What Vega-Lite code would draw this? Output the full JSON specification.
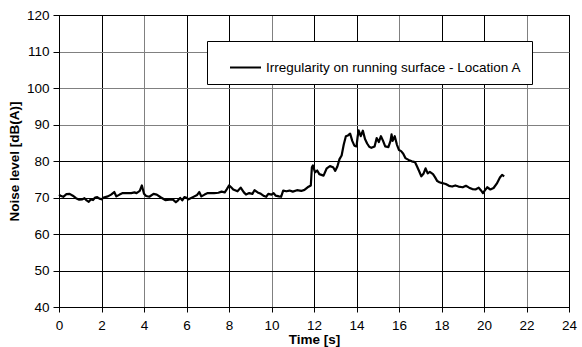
{
  "$schema": "https://vega.github.io/schema/vega-lite/v6.json",
  "width": 510,
  "height": 292,
  "autosize": "none",
  "padding": {"left": 59, "top": 15, "right": 13, "bottom": 40},
  "background": "white",
  "config": {
    "font": "Liberation Sans",
    "view": {"stroke": "black", "strokeWidth": 1},
    "axis": {
      "labelFont": "Liberation Sans",
      "labelFontSize": 13.5,
      "labelColor": "black",
      "titleFont": "Liberation Sans",
      "titleFontSize": 13.5,
      "titleFontWeight": "bold",
      "titleColor": "black",
      "domainColor": "black",
      "tickColor": "black",
      "gridOpacity": 1,
      "gridWidth": 1
    }
  },
  "data": {
    "values": [
      {"t":0,"db":70.8},{"t":0.1,"db":70.4},{"t":0.2,"db":70.2},{"t":0.35,"db":70.9},{"t":0.5,"db":71.0},
      {"t":0.65,"db":70.5},{"t":0.8,"db":69.8},{"t":0.95,"db":69.4},{"t":1.1,"db":69.5},{"t":1.2,"db":69.8},
      {"t":1.3,"db":69.2},{"t":1.4,"db":68.8},{"t":1.5,"db":69.5},{"t":1.6,"db":69.3},{"t":1.7,"db":70.0},
      {"t":1.8,"db":70.1},{"t":1.9,"db":69.7},{"t":2.0,"db":69.5},{"t":2.1,"db":70.0},{"t":2.3,"db":70.3},
      {"t":2.45,"db":70.8},{"t":2.6,"db":71.5},{"t":2.7,"db":70.3},{"t":2.85,"db":70.8},{"t":3.0,"db":71.2},
      {"t":3.2,"db":71.2},{"t":3.4,"db":71.2},{"t":3.55,"db":71.4},{"t":3.65,"db":71.2},{"t":3.8,"db":71.8},
      {"t":3.9,"db":73.3},{"t":4.0,"db":71.0},{"t":4.1,"db":70.4},{"t":4.25,"db":70.2},{"t":4.45,"db":71.0},
      {"t":4.6,"db":70.8},{"t":4.8,"db":70.0},{"t":5.0,"db":69.3},{"t":5.2,"db":69.4},{"t":5.35,"db":69.5},
      {"t":5.5,"db":68.7},{"t":5.6,"db":69.2},{"t":5.7,"db":69.9},{"t":5.8,"db":69.2},{"t":5.9,"db":70.1},
      {"t":6.0,"db":69.9},{"t":6.1,"db":69.5},{"t":6.3,"db":70.1},{"t":6.5,"db":70.7},{"t":6.6,"db":71.5},
      {"t":6.7,"db":70.3},{"t":6.85,"db":70.8},{"t":7.0,"db":71.2},{"t":7.3,"db":71.2},{"t":7.5,"db":71.3},
      {"t":7.65,"db":71.6},{"t":7.8,"db":71.4},{"t":7.9,"db":72.3},{"t":8.0,"db":73.3},{"t":8.1,"db":72.8},
      {"t":8.2,"db":72.2},{"t":8.4,"db":71.7},{"t":8.55,"db":72.7},{"t":8.7,"db":71.4},{"t":8.8,"db":70.8},
      {"t":8.95,"db":71.2},{"t":9.1,"db":71.0},{"t":9.2,"db":72.0},{"t":9.35,"db":71.4},{"t":9.5,"db":71.0},
      {"t":9.65,"db":70.4},{"t":9.75,"db":70.2},{"t":9.85,"db":71.0},{"t":10.0,"db":70.8},{"t":10.1,"db":71.2},
      {"t":10.2,"db":70.5},{"t":10.35,"db":70.3},{"t":10.45,"db":70.2},{"t":10.55,"db":71.9},{"t":10.7,"db":71.7},
      {"t":10.85,"db":71.9},{"t":11.0,"db":71.6},{"t":11.2,"db":72.0},{"t":11.4,"db":71.8},{"t":11.55,"db":72.1},
      {"t":11.7,"db":72.8},{"t":11.85,"db":73.3},{"t":11.9,"db":78.3},{"t":11.95,"db":78.8},{"t":12.05,"db":76.9},
      {"t":12.15,"db":77.4},{"t":12.25,"db":76.4},{"t":12.45,"db":76.0},{"t":12.6,"db":78.0},{"t":12.75,"db":78.6},
      {"t":12.9,"db":78.3},{"t":13.0,"db":77.3},{"t":13.1,"db":78.5},{"t":13.2,"db":80.5},{"t":13.3,"db":81.5},
      {"t":13.4,"db":84.5},{"t":13.5,"db":86.8},{"t":13.6,"db":87.0},{"t":13.7,"db":87.5},{"t":13.8,"db":85.5},
      {"t":13.9,"db":84.2},{"t":14.0,"db":84.0},{"t":14.05,"db":86.5},{"t":14.1,"db":88.4},{"t":14.2,"db":86.8},
      {"t":14.3,"db":88.3},{"t":14.4,"db":86.0},{"t":14.5,"db":84.8},{"t":14.6,"db":83.9},{"t":14.7,"db":83.6},
      {"t":14.85,"db":84.0},{"t":14.95,"db":86.3},{"t":15.05,"db":85.2},{"t":15.15,"db":86.8},{"t":15.25,"db":85.5},
      {"t":15.35,"db":84.0},{"t":15.5,"db":83.8},{"t":15.6,"db":85.5},{"t":15.65,"db":87.3},{"t":15.7,"db":85.5},
      {"t":15.8,"db":86.8},{"t":15.9,"db":84.5},{"t":16.0,"db":83.0},{"t":16.1,"db":82.7},{"t":16.2,"db":82.0},
      {"t":16.3,"db":80.8},{"t":16.45,"db":80.3},{"t":16.6,"db":79.9},{"t":16.75,"db":79.7},{"t":16.85,"db":78.5},
      {"t":16.95,"db":77.2},{"t":17.05,"db":75.8},{"t":17.15,"db":76.5},{"t":17.25,"db":78.0},{"t":17.35,"db":76.6},
      {"t":17.45,"db":77.0},{"t":17.6,"db":76.4},{"t":17.7,"db":75.5},{"t":17.8,"db":74.5},{"t":17.9,"db":74.2},
      {"t":18.0,"db":74.0},{"t":18.2,"db":73.7},{"t":18.35,"db":73.2},{"t":18.5,"db":73.0},{"t":18.65,"db":73.3},
      {"t":18.8,"db":73.0},{"t":19.0,"db":72.8},{"t":19.15,"db":73.2},{"t":19.3,"db":72.7},{"t":19.45,"db":72.3},
      {"t":19.6,"db":72.2},{"t":19.75,"db":72.7},{"t":19.85,"db":72.0},{"t":19.95,"db":71.2},{"t":20.05,"db":72.0},
      {"t":20.15,"db":72.8},{"t":20.3,"db":72.2},{"t":20.45,"db":72.6},{"t":20.6,"db":73.8},{"t":20.75,"db":75.5},
      {"t":20.85,"db":76.2},{"t":20.95,"db":75.8}
    ]
  },
  "mark": {"type": "line", "strokeWidth": 2.2, "strokeJoin": "round"},
  "encoding": {
    "x": {
      "field": "t",
      "type": "quantitative",
      "scale": {"domain": [0, 24], "nice": false, "zero": false},
      "axis": {
        "title": "Time [s]",
        "values": [0, 2, 4, 6, 8, 10, 12, 14, 16, 18, 20, 22, 24],
        "tickSize": 5,
        "labelPadding": 6,
        "titlePadding": 1,
        "labelFlush": false,
        "labelOverlap": false,
        "gridColor": {"condition": {"test": "indexof([4,10,16,22], datum.value) >= 0", "value": "#808080"}, "value": "black"}
      }
    },
    "y": {
      "field": "db",
      "type": "quantitative",
      "scale": {"domain": [40, 120], "nice": false, "zero": false},
      "axis": {
        "title": "Noise level [dB(A)]",
        "values": [40, 50, 60, 70, 80, 90, 100, 110, 120],
        "tickSize": 6,
        "labelPadding": 4,
        "titlePadding": 5,
        "labelFlush": false,
        "labelOverlap": false,
        "gridColor": {"condition": {"test": "datum.value >= 90 && datum.value <= 110", "value": "#808080"}, "value": "black"}
      }
    },
    "color": {
      "datum": "Irregularity on running surface - Location A",
      "type": "nominal",
      "scale": {"range": ["black"]},
      "legend": {
        "title": null,
        "orient": "none",
        "legendX": 148,
        "legendY": 26,
        "direction": "vertical",
        "symbolType": "stroke",
        "symbolSize": 961,
        "symbolStrokeWidth": 2,
        "symbolOffset": 12,
        "labelFont": "Liberation Sans",
        "labelFontSize": 13.5,
        "labelColor": "black",
        "labelOffset": 4,
        "labelLimit": 400,
        "labelExpr": "datum.label + '\u00a0\u00a0\u00a0'",
        "padding": 10,
        "strokeColor": "black",
        "fillColor": "white"
      }
    }
  }
}
